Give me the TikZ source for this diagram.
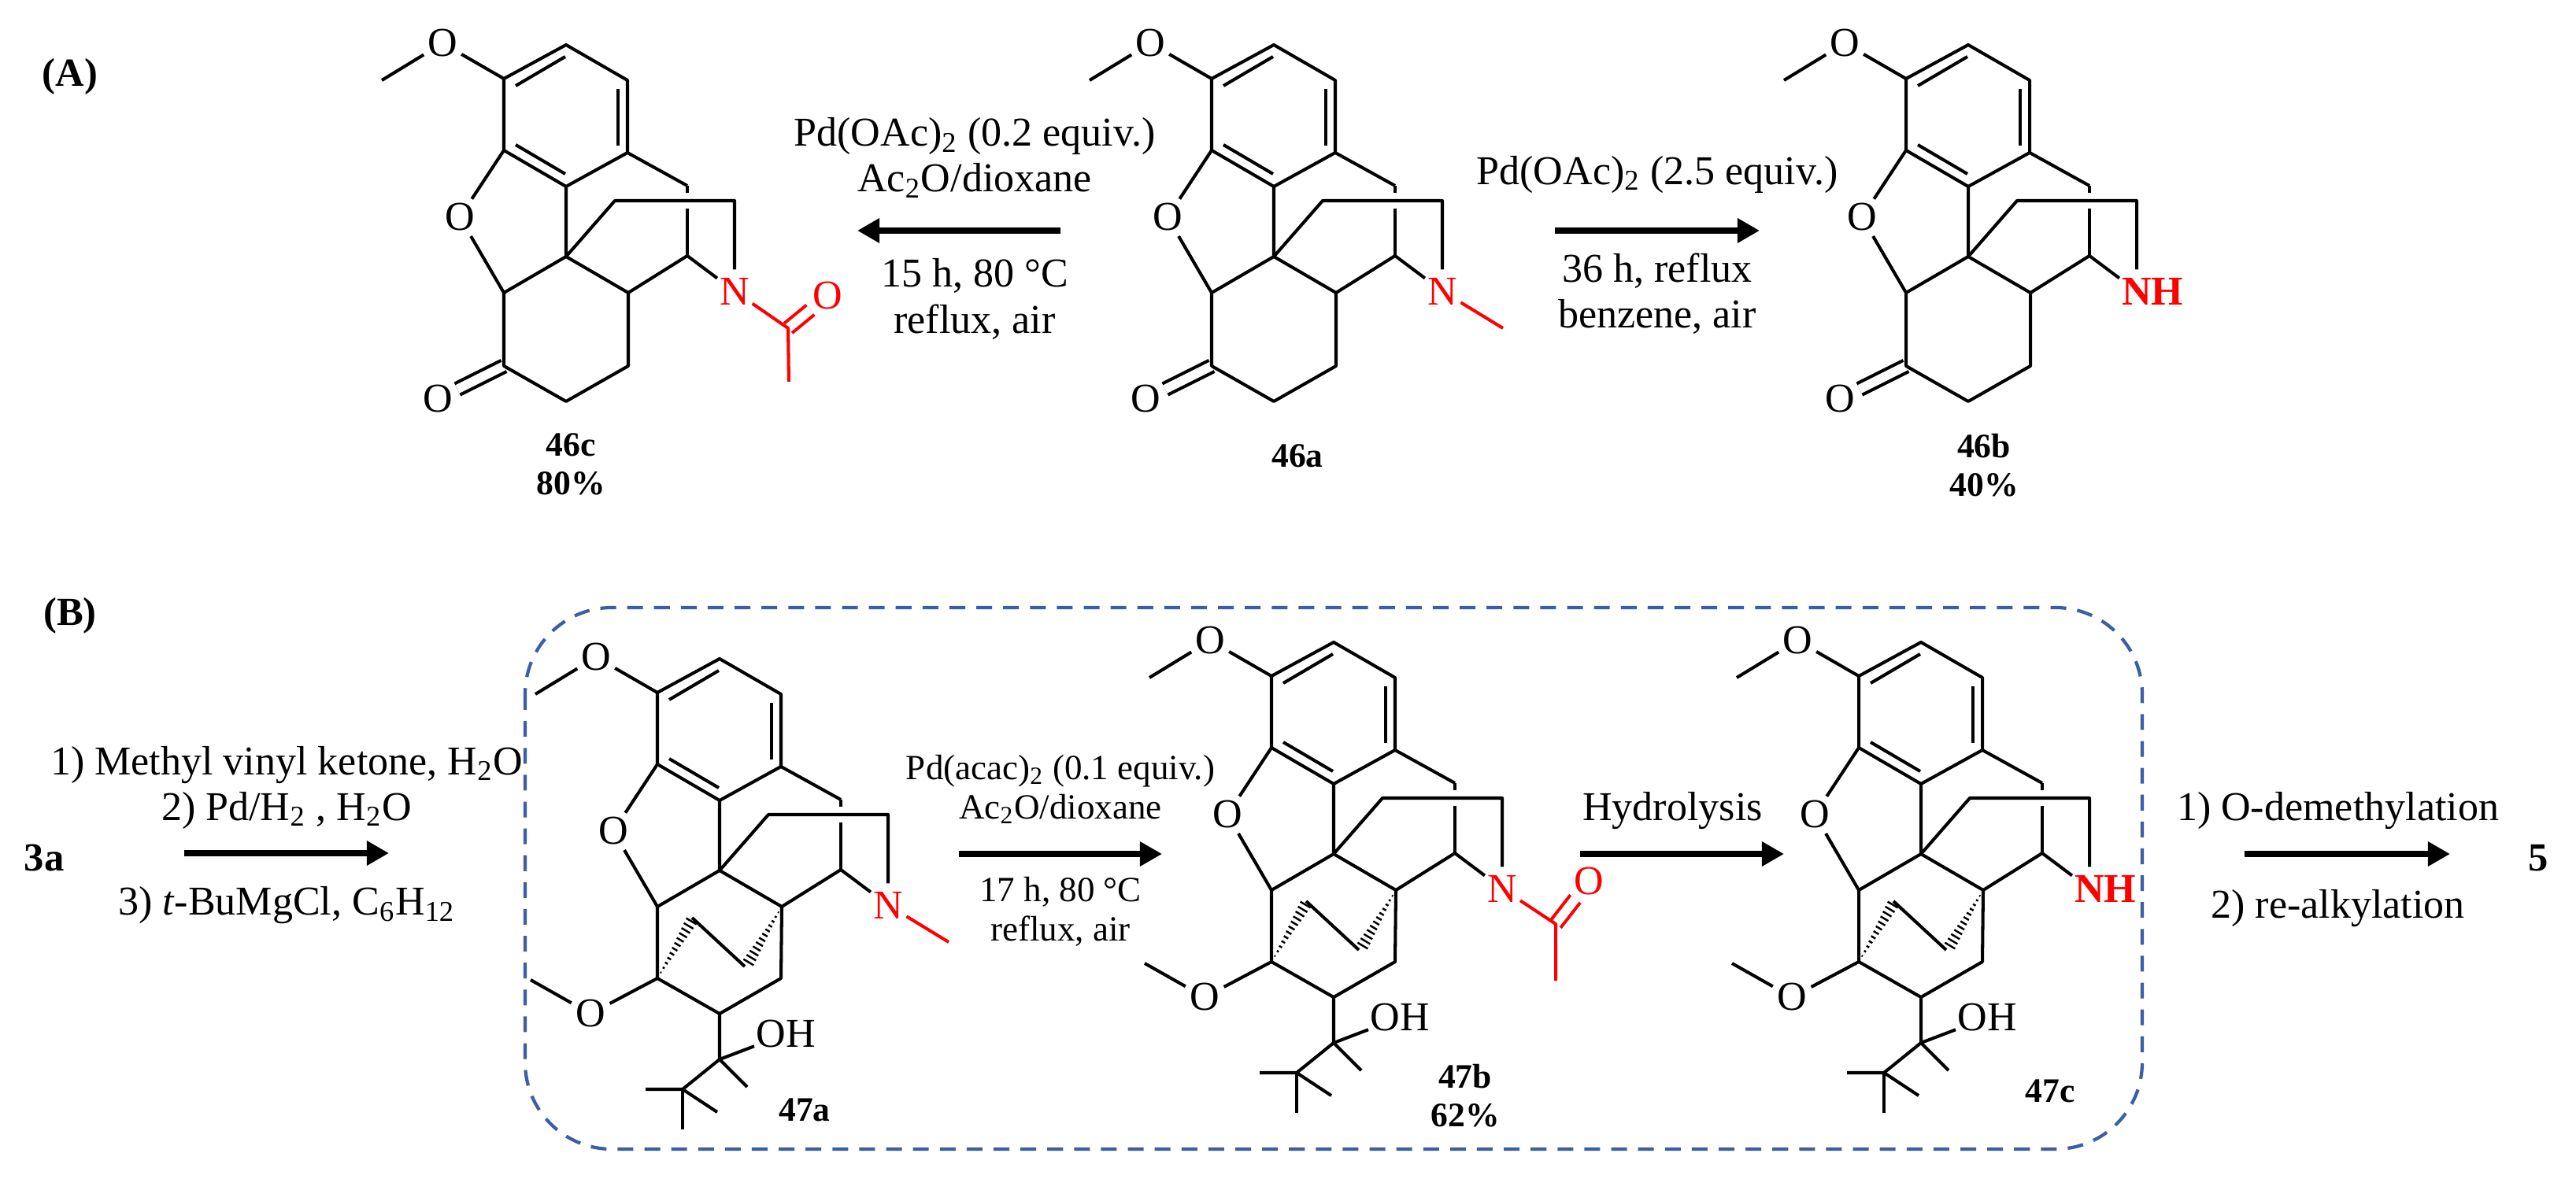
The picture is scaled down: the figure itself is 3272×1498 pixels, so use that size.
\documentclass[tikz,border=0pt]{standalone}
\usepackage{fontspec}
\setmainfont{Liberation Serif}
\usepackage{tikz}
\usetikzlibrary{positioning, arrows.meta, calc}

\newcommand{\coretop}[1]{
    \coordinate (-ch3) at (-234,-224);
    \coordinate (-a1) at (-79,-226);
    \coordinate (-a2) at (0,-269);
    \coordinate (-a3) at (78,-224);
    \coordinate (-a4) at (78,-132);
    \coordinate (-a5) at (0,-89);
    \coordinate (-a6) at (-79,-135);
    \coordinate (-q) at (0,0);
    \coordinate (-c1) at (-79,46);
    \coordinate (-c2) at (79,46);
    \coordinate (-b1) at (154,-90);
    \coordinate (-c7) at (154,-1);
    \coordinate (-br1) at (62,-71);
    \coordinate (-br2) at (214,-71);
    \node[atom] (-ome) at (-157,-271) {O};
    \node[atom] (-oring) at (-135,-50) {O};
    \node[nitro] (-N) at (214,44) {#1};
    \draw[bond] (-b1) -- (-c7);
    \draw[halo] (-br1) -- (-br2);
    \draw[bond] (-ch3) -- (-ome) -- (-a1) -- (-a2) -- (-a3) -- (-a4) -- (-a5) -- (-a6) -- (-a1);
    \draw[bond] (-a6) -- (-oring) -- (-c1) -- (-q) -- (-c2) -- (-c7) -- (-N);
    \draw[bond] (-a5) -- (-q) -- (-br1) -- (-br2) -- (-N);
    \draw[bond] (-a4) -- (-b1);
    \draw[bond] ($(-a1)+(15,9)$) -- ($(-a2)+(-1,15)$);
    \draw[bond] ($(-a3)+(-12,11)$) -- ($(-a4)+(-12,-9)$);
    \draw[bond] ($(-a6)+(15,-7)$) -- ($(-a5)+(-1,-16)$);
}
\newcommand{\hashwedge}[2]{
    \foreach \f in {0.1,0.18,...,0.98}
        \draw[line width=0.7pt] ($(#1)!\f!(#2)!\f*2.2pt!90:(#2)$) -- ($(#1)!\f!(#2)!\f*2.2pt!-90:(#2)$);
}

\begin{document}
\begin{tikzpicture}[
        x=0.01cm, y=-0.01cm,
        bond/.style={line width=1.15pt, line join=round},
        halo/.style={white, line width=5.7pt},
        atom/.style={circle, inner sep=0.3pt, font=\fontsize{14.8}{16}\selectfont},
        nitro/.style={atom, text=red},
        oh/.style={inner sep=0.5pt, font=\fontsize{14.8}{16}\selectfont},
        cmpd/.style={align=center, inner sep=0pt, font=\bfseries\fontsize{12.4}{14}\selectfont},
        tag/.style={inner sep=0pt, font=\bfseries\fontsize{14.4}{16}\selectfont},
        cond/.style={align=center, inner sep=0pt, font=\fontsize{14.8}{16.6}\selectfont},
        condsm/.style={align=center, inner sep=0pt, font=\fontsize{12.8}{14.2}\selectfont},
        arrow/.style={line width=2pt, -{Triangle[length=8pt, width=8.5pt]}},
        framebox/.style={draw=framecol, line width=1.2pt, dash pattern=on 5.7pt off 4pt, rounded corners=1.1cm},
        pics/ketone/.style={code={
            \coretop{#1}
            \coordinate (-c3) at (79,139);
            \coordinate (-c4) at (0,184);
            \coordinate (-c5) at (-79,139);
            \node[atom] (-oket) at (-163,181) {O};
            \draw[bond, double, double distance=3.3pt] (-c5) -- (-oket);
            \draw[bond] (-c2) -- (-c3) -- (-c4) -- (-c5) -- (-c1);
        }},
        pics/carbinol/.style={code={
            \coretop{#1}
            \coordinate (-c3) at (78,137);
            \coordinate (-c4) at (0,182);
            \coordinate (-c5) at (-79,137);
            \coordinate (-me) at (-240,139);
            \coordinate (-t) at (0,240);
            \coordinate (-tme) at (35,275);
            \coordinate (-ct) at (-47,278);
            \coordinate (-tb1) at (-94,278);
            \coordinate (-tb2) at (-3,307);
            \coordinate (-tb3) at (-47,329);
            \coordinate (-w1) at (-35,63);
            \coordinate (-w2) at (36,118);
            \coordinate (-e1) at (-35,60);
            \coordinate (-e2) at (32,122);
            \node[atom] (-omelow) at (-164,182) {O};
            \node[oh] (-oh) at (84,208) {OH};
            \draw[bond] (-c2) -- (-c3) -- (-c4) -- (-c5) -- (-c1);
            \draw[bond] (-me) -- (-omelow) -- (-c5);
            \draw[bond] (-c4) -- (-t) -- (-oh);
            \draw[bond] (-t) -- (-tme);
            \draw[bond] (-t) -- (-ct) -- (-tb1);
            \draw[bond] (-ct) -- (-tb2);
            \draw[bond] (-ct) -- (-tb3);
            \draw[bond] (-e1) -- (-e2);
            \hashwedge{-c5}{-w1}
            \hashwedge{-c2}{-w2}
        }}
    ]
    \definecolor{framecol}{HTML}{3B5EA6}
    \path[use as bounding box, fill=white] (0,0) rectangle (3272,1498);

    \node[tag] (parta) at (89,97) {(A)};
    \node[tag] (partb) at (89,782) {(B)};

    \pic (mc) at (719,326) {ketone=N};
    \pic (ma) at (1618,326) {ketone=N};
    \pic (mb) at (2500,326) {ketone={\textbf{N\rlap{H}}}};

    \coordinate (mc-ac) at (1001,417);
    \coordinate (mc-acme) at (1002,485);
    \node[nitro] (mc-aco) at (1051,376) {O};
    \draw[bond, red, double, double distance=3.3pt] (mc-ac) -- (mc-aco);
    \draw[bond, red] (mc-N) -- (mc-ac) -- (mc-acme);
    \coordinate (ma-nme) at (1909,417);
    \draw[bond, red] (ma-N) -- (ma-nme);

    \node[cmpd] (lab46c) at (725,590) {46c\\80\%};
    \node[cmpd] (lab46a) at (1648,579) {46a};
    \node[cmpd] (lab46b) at (2520,591) {46b\\40\%};

    \coordinate (arrcs) at (1347,293);
    \coordinate (arrce) at (1089,293);
    \coordinate (arrbs) at (1975,293);
    \coordinate (arrbe) at (2235,293);
    \draw[arrow] (arrcs) -- node[cond, anchor=south, xshift=0.2cm, yshift=0.38cm] {Pd(OAc)\textsubscript{2} (0.2 equiv.)\\Ac\textsubscript{2}O/dioxane}
        node[cond, anchor=north, xshift=0.2cm, yshift=-0.32cm] {15 h, 80 °C\\reflux, air} (arrce);
    \draw[arrow] (arrbs) -- node[cond, anchor=south, yshift=0.44cm] {Pd(OAc)\textsubscript{2} (2.5 equiv.)}
        node[cond, anchor=north, yshift=-0.25cm] {36 h, reflux\\benzene, air} (arrbe);

    \coordinate (boxa) at (667,772);
    \coordinate (boxb) at (2721,1460);
    \draw[framebox] (boxa) rectangle (boxb);

    \pic (ra) at (914,1106) {carbinol=N};
    \pic (rb) at (1694,1085) {carbinol=N};
    \pic (rc) at (2440,1085) {carbinol={\textbf{N\rlap{H}}}};

    \coordinate (ra-nme) at (1205,1197);
    \draw[bond, red] (ra-N) -- (ra-nme);
    \coordinate (rb-ac) at (1976,1174);
    \coordinate (rb-acme) at (1976,1246);
    \node[nitro] (rb-aco) at (2018,1120) {O};
    \draw[bond, red, double, double distance=3.3pt] (rb-ac) -- (rb-aco);
    \draw[bond, red] (rb-N) -- (rb-ac) -- (rb-acme);

    \node[cmpd] (lab47a) at (1022,1410) {47a};
    \node[cmpd] (lab47b) at (1861,1392) {47b\\62\%};
    \node[cmpd] (lab47c) at (2604,1386) {47c};

    \node[tag] (start) at (56,1090) {3a};
    \node[tag] (final) at (3224,1090) {5};

    \coordinate (arr1s) at (234,1084);
    \coordinate (arr1e) at (494,1084);
    \coordinate (arr2s) at (1218,1085);
    \coordinate (arr2e) at (1476,1085);
    \coordinate (arr3s) at (2007,1085);
    \coordinate (arr3e) at (2266,1085);
    \coordinate (arr4s) at (2851,1085);
    \coordinate (arr4e) at (3112,1085);
    \draw[arrow] (arr1s) -- node[cond, anchor=south, yshift=0.27cm] {1) Methyl vinyl ketone, H\textsubscript{2}O\\2) Pd/H\textsubscript{2} , H\textsubscript{2}O}
        node[cond, anchor=north, yshift=-0.39cm] {3) \textit{t}-BuMgCl, C\textsubscript{6}H\textsubscript{12}} (arr1e);
    \draw[arrow] (arr2s) -- node[condsm, anchor=south, yshift=0.35cm] {Pd(acac)\textsubscript{2} (0.1 equiv.)\\Ac\textsubscript{2}O/dioxane}
        node[condsm, anchor=north, yshift=-0.26cm] {17 h, 80 °C\\reflux, air} (arr2e);
    \draw[arrow] (arr3s) -- node[cond, anchor=south, xshift=-0.12cm, yshift=0.28cm] {Hydrolysis} (arr3e);
    \draw[arrow] (arr4s) -- node[cond, anchor=south, xshift=-0.12cm, yshift=0.28cm] {1) O-demethylation}
        node[cond, anchor=north, xshift=-0.12cm, yshift=-0.42cm] {2) re-alkylation} (arr4e);
\end{tikzpicture}
\end{document}
